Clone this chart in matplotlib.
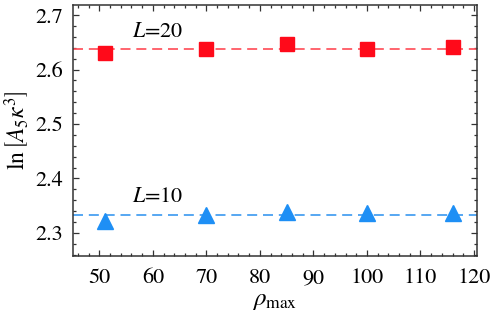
import matplotlib
matplotlib.use("Agg")
import matplotlib.pyplot as plt
from matplotlib.ticker import MultipleLocator

plt.rcParams['font.family'] = ['STIXGeneral', 'DejaVu Serif']
plt.rcParams['mathtext.fontset'] = 'stix'

rho_max = [51, 70, 85, 100, 116]
lnA_L20 = [2.630, 2.638, 2.647, 2.638, 2.641]
lnA_L10 = [2.322, 2.333, 2.338, 2.336, 2.336]
fit_L20 = 2.638
fit_L10 = 2.332

fig = plt.figure(figsize=(4.91, 3.15), dpi=100)
ax = fig.add_axes([0.1477, 0.1883, 0.8232, 0.7947])

ax.axhline(fit_L20, color='#ff4a55', lw=1.2, dashes=(6, 3.5))
ax.axhline(fit_L10, color='#3a98f0', lw=1.2, dashes=(6, 3.5))
ax.plot(rho_max, lnA_L20, 's', color='#ff0a1a', ms=9.5, mec='#ff0a1a')
ax.plot(rho_max, lnA_L10, '^', color='#1e8ff5', ms=11.5, mec='#1e8ff5')

ax.text(61, 2.669, r'$L$=20', fontsize=16, ha='center', va='center')
ax.text(61, 2.366, r'$L$=10', fontsize=16, ha='center', va='center')

ax.set_xlim(45, 120.5)
ax.set_ylim(2.258, 2.718)
ax.xaxis.set_major_locator(MultipleLocator(10))
ax.xaxis.set_minor_locator(MultipleLocator(2))
ax.yaxis.set_major_locator(MultipleLocator(0.1))
ax.yaxis.set_minor_locator(MultipleLocator(0.02))
ax.tick_params(which='both', direction='in', top=True, right=True, labelsize=16,
               width=0.9, color='#333333')
ax.tick_params(which='major', length=4)
ax.tick_params(which='minor', length=2.2)
ax.tick_params(axis='x', which='major', pad=9)
ax.tick_params(axis='y', which='major', pad=7)
for s in ax.spines.values():
    s.set_linewidth(1.1)
    s.set_color('#333333')

ax.set_xlabel(r'$\rho_{\rm max}$', fontsize=18, labelpad=0)
ax.set_ylabel(r'$\ln\left[A_5\kappa^3\right]$', fontsize=17, labelpad=3)

fig.savefig('out.png', dpi=100)
